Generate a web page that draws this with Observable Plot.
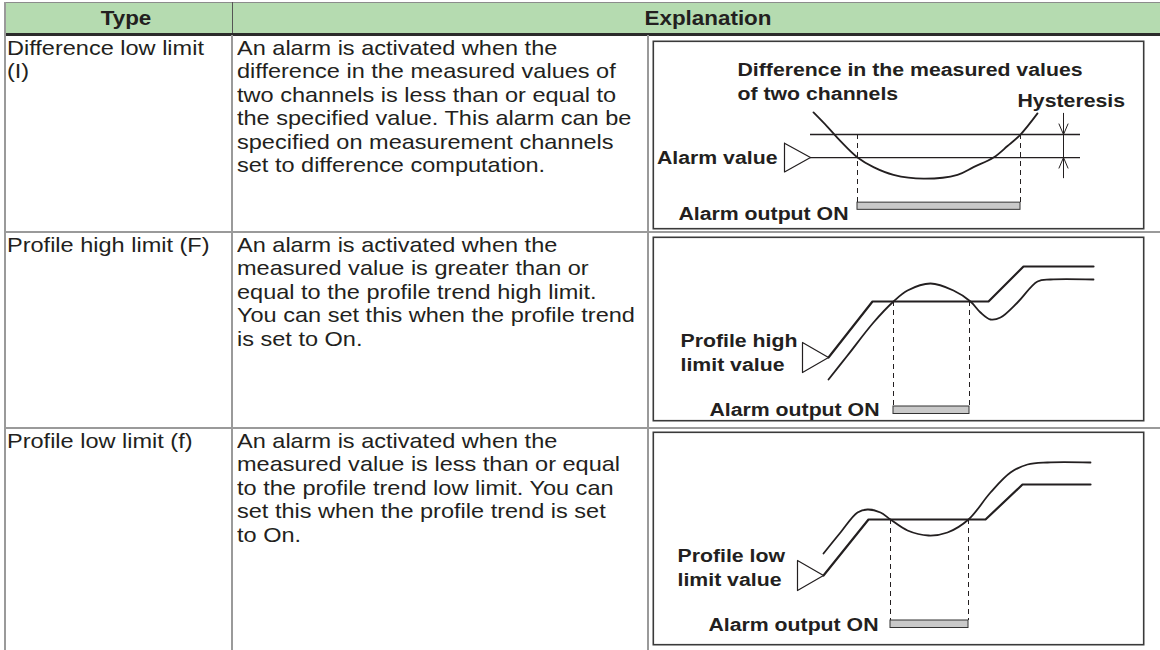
<!DOCTYPE html>
<html><head><meta charset="utf-8">
<script src="https://cdn.jsdelivr.net/npm/d3@7"></script>
<script src="https://cdn.jsdelivr.net/npm/@observablehq/plot@0.6"></script>
<style>
html,body{margin:0;padding:0}
body{width:1160px;height:650px;overflow:hidden;background:#fff;position:relative;font-family:"Liberation Sans",Arial,sans-serif;color:#231f20}
.a{position:absolute}
.cell{position:absolute;font-size:21px;line-height:23.4px;white-space:pre;transform:scaleX(1.12);transform-origin:0 0}
.hdr{position:absolute;font-size:20px;font-weight:bold;line-height:30px;top:3px;transform:translateX(-50%) scaleX(1.12)}
svg{overflow:visible}
</style></head><body>
<script>
// ---------- table text ----------
const headerLabels = ["Type", "Explanation"];
const typeLabels = [
  ["Difference low limit", "(I)"],
  ["Profile high limit (F)"],
  ["Profile low limit (f)"]
];
const explanationLines = [
  ["An alarm is activated when the",
   "difference in the measured values of",
   "two channels is less than or equal to",
   "the specified value. This alarm can be",
   "specified on measurement channels",
   "set to difference computation."],
  ["An alarm is activated when the",
   "measured value is greater than or",
   "equal to the profile trend high limit.",
   "You can set this when the profile trend",
   "is set to On."],
  ["An alarm is activated when the",
   "measured value is less than or equal",
   "to the profile trend low limit. You can",
   "set this when the profile trend is set",
   "to On."]
];

// ---------- diagram data: [time, level] ----------
// Difference low limit
const diffMeasured = [[161,122],[175,107],[188,92],[205,75],[221,65],[241,57],[271,53],[305,57],[321,65],[341,75],[355,87],[368,99],[385,121]];
const diffAlarmValue = 75;
const diffHysteresisValue = 99;
const diffLevelSpan = [158, 428];
const diffOnInterval = [205, 368];
const diffLabels = ["Difference in the measured values", "of two channels", "Hysteresis", "Alarm value", "Alarm output ON"];

// Profile high limit
const highLimit = [[176,64],[220,120],[336,120],[371,155],[441,155]];
const highMeasured = [[176,42],[195,66],[221,99],[241,120],[255,131],[278,138],[301,131],[318,120],[328,109],[338,102],[348,104],[365,119],[385,140],[398,142],[441,142]];
const highOnInterval = [241, 317];
const highLabels = ["Profile high", "limit value", "Alarm output ON"];

// Profile low limit
const lowLimit = [[171,70],[216,126],[333,126],[370,161],[438,161]];
const lowMeasured = [[171,92],[188,113],[205,133],[215,136],[228,133],[238,126],[255,115],[276,110],[295,113],[316,126],[338,153],[358,173],[375,181],[395,183],[438,183]];
const lowOnInterval = [238, 316];
const lowLabels = ["Profile low", "limit value", "Alarm output ON"];

// ---------- layout ----------
const INK = "#231f20";
const GRID = "#9a9a9a";
function box(l, t, w, h, bg) {
  const d = document.createElement("div");
  d.className = "a";
  Object.assign(d.style, {left: l + "px", top: t + "px", width: w + "px", height: h + "px", background: bg});
  document.body.appendChild(d);
  return d;
}
const rowDividers = [231.5, 427.5];
// header
box(5, 2, 1160, 31, "#b5dbb0");
box(5, 2, 1160, 1, "#8c8c8c");
box(5, 33, 1160, 2.5, "#2b2b2b");
box(231.5, 2, 1, 31, "#555");
// outer & grid lines
box(4, 2, 1.5, 650, GRID);
box(231, 35, 2, 620, GRID);
box(647, 35, 2, 620, GRID);
rowDividers.forEach(y => box(5, y - 1, 1160, 2, GRID));

const hx = [126, 708];
headerLabels.forEach((t, i) => {
  const d = document.createElement("div");
  d.className = "hdr"; d.textContent = t; d.style.left = hx[i] + "px";
  document.body.appendChild(d);
});
const textTops = [36, 233, 429];
typeLabels.forEach((lines, i) => {
  const d = document.createElement("div");
  d.className = "cell"; d.textContent = lines.join("\n");
  d.style.left = "7px"; d.style.top = textTops[i] + "px";
  document.body.appendChild(d);
});
explanationLines.forEach((lines, i) => {
  const d = document.createElement("div");
  d.className = "cell"; d.textContent = lines.join("\n");
  d.style.left = "237px"; d.style.top = textTops[i] + "px";
  document.body.appendChild(d);
});

// ---------- diagrams ----------
const FONT = {fontSize: 19, fontWeight: "bold", fill: INK};
function triangle(tip) {
  const [tx, ty] = tip;
  return [[tx - 26, ty + 15], [tx, ty], [tx - 26, ty - 15], [tx - 26, ty + 15]];
}
function diagram(spec) {
  const startLabels = spec.labels.filter(d => d.anchor === "start");
  const endLabels = spec.labels.filter(d => d.anchor === "end");
  const marks = [
    Plot.frame({stroke: "#3a3a3a", strokeWidth: 1.6, inset: 0.8}),
    ...spec.marks,
    Plot.ruleX(spec.on, {x: d => d, y1: spec.dashTop, y2: spec.barTop, stroke: INK, strokeWidth: 1, strokeDasharray: "5,4"}),
    Plot.rect([spec.on], {x1: d => d[0], x2: d => d[1], y1: spec.barTop, y2: spec.barTop - 7.5, fill: "#c9c9c9", stroke: "#333", strokeWidth: 1}),
    Plot.text(startLabels, {x: "x", y: "y", text: "text", textAnchor: "start", className: "lbl", ...FONT}),
    Plot.text(endLabels, {x: "x", y: "y", text: "text", textAnchor: "end", className: "lbl", ...FONT})
  ];
  const svg = Plot.plot({
    width: 492, height: spec.H, margin: 0,
    x: {domain: [0, 492], axis: null},
    y: {domain: [0, spec.domainH], axis: null},
    style: {fontFamily: "'Liberation Sans', Arial, sans-serif", background: "transparent", overflow: "visible"},
    marks
  });
  // horizontal stretch of label glyphs around their anchor
  svg.querySelectorAll("g.lbl text, .lbl text").forEach(t => {
    const tr = t.getAttribute("transform") || "";
    t.setAttribute("transform", tr + " scale(1.12,1)");
  });
  const wrap = document.createElement("div");
  wrap.className = "a";
  wrap.style.left = "652px"; wrap.style.top = spec.top + "px";
  wrap.appendChild(svg);
  document.body.appendChild(wrap);
}

// Difference low limit
const hysX = 411;
diagram({
  top: 40, H: 189, domainH: 197,
  on: diffOnInterval, dashTop: diffHysteresisValue, barTop: 28,
  marks: [
    Plot.ruleY([diffAlarmValue, diffHysteresisValue], {x1: diffLevelSpan[0], x2: diffLevelSpan[1], stroke: INK, strokeWidth: 1.3}),
    Plot.line(diffMeasured, {x: "0", y: "1", curve: "catmull-rom", stroke: INK, strokeWidth: 1.8}),
    Plot.line(triangle([diffLevelSpan[0], diffAlarmValue]), {x: "0", y: "1", stroke: INK, strokeWidth: 1.2, fill: "white"}),
    Plot.ruleX([hysX], {y1: diffAlarmValue - 22, y2: diffHysteresisValue + 22, stroke: INK, strokeWidth: 1}),
    Plot.line([[hysX - 4.5, diffHysteresisValue + 11], [hysX, diffHysteresisValue], [hysX + 4.5, diffHysteresisValue + 11]], {x: "0", y: "1", stroke: INK, strokeWidth: 1}),
    Plot.line([[hysX - 4.5, diffAlarmValue - 11], [hysX, diffAlarmValue], [hysX + 4.5, diffAlarmValue - 11]], {x: "0", y: "1", stroke: INK, strokeWidth: 1})
  ],
  labels: [
    {text: diffLabels[0], x: 85, y: 166, anchor: "start"},
    {text: diffLabels[1], x: 85, y: 141, anchor: "start"},
    {text: diffLabels[2], x: 365, y: 134, anchor: "start"},
    {text: diffLabels[3], x: 125, y: diffAlarmValue, anchor: "end"},
    {text: diffLabels[4], x: 196, y: 16, anchor: "end"}
  ]
});

// Profile high limit
diagram({
  top: 236, H: 185, domainH: 185,
  on: highOnInterval, dashTop: highLimit[1][1], barTop: 15,
  marks: [
    Plot.line(highLimit, {x: "0", y: "1", stroke: INK, strokeWidth: 2.2}),
    Plot.line(highMeasured, {x: "0", y: "1", curve: "catmull-rom", stroke: INK, strokeWidth: 1.8}),
    Plot.line(triangle(highLimit[0]), {x: "0", y: "1", stroke: INK, strokeWidth: 1.2, fill: "white"})
  ],
  labels: [
    {text: highLabels[0], x: 28, y: 81, anchor: "start"},
    {text: highLabels[1], x: 28, y: 57, anchor: "start"},
    {text: highLabels[2], x: 227, y: 12, anchor: "end"}
  ]
});

// Profile low limit
diagram({
  top: 431, H: 214, domainH: 214,
  on: lowOnInterval, dashTop: lowLimit[1][1], barTop: 25,
  marks: [
    Plot.line(lowLimit, {x: "0", y: "1", stroke: INK, strokeWidth: 2.2}),
    Plot.line(lowMeasured, {x: "0", y: "1", curve: "catmull-rom", stroke: INK, strokeWidth: 1.8}),
    Plot.line(triangle(lowLimit[0]), {x: "0", y: "1", stroke: INK, strokeWidth: 1.2, fill: "white"})
  ],
  labels: [
    {text: lowLabels[0], x: 25, y: 90, anchor: "start"},
    {text: lowLabels[1], x: 25, y: 66, anchor: "start"},
    {text: lowLabels[2], x: 226, y: 21, anchor: "end"}
  ]
});
</script>
</body></html>
